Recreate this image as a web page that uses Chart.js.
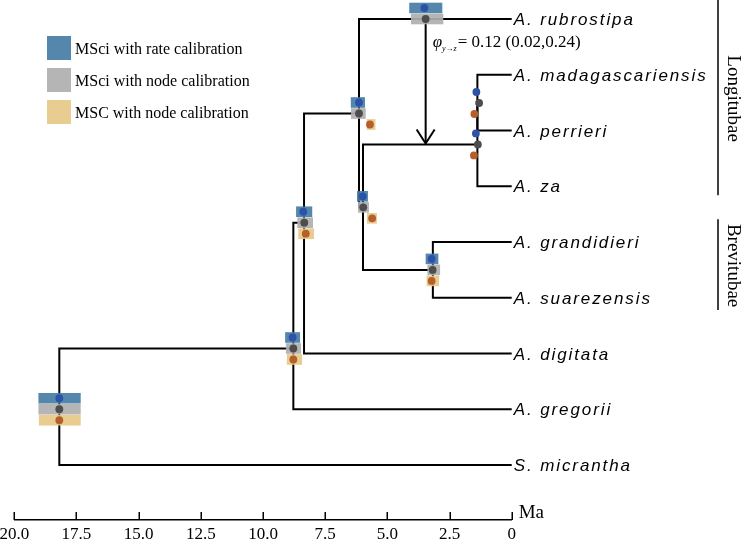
<!DOCTYPE html>
<html><head><meta charset="utf-8">
<script src="https://cdn.jsdelivr.net/npm/chart.js@4/dist/chart.umd.min.js"></script>
<style>html,body{margin:0;padding:0;background:#fff}#wrap{position:relative;width:742px;height:542px}</style>
</head><body><div id="wrap"><canvas id="c"></canvas></div>
<script>
// ---- tips (rows from top) ----
const tipNames = ['A. rubrostipa','A. madagascariensis','A. perrieri','A. za','A. grandidieri','A. suarezensis','A. digitata','A. gregorii','S. micrantha'];
const tipRows  = [0,1,2,3,4,5,6,7,8];
// ---- internal nodes (age in Ma, row position) ----
const nodeNames = ['root','n2','n3','n4','n5','brev','l2','l1'];
const nodeAges  = [18.19, 8.78, 8.35, 6.14, 5.98, 3.17, 1.38, 1.38];
const nodeRows  = [7.0, 5.91, 3.654, 1.695, 3.378, 4.5, 2.25, 1.507];
// ---- edges ----
const edgeParent = ['root','root','n2','n2','n3','n3','n4','n4','n5','n5','l2','l2','l1','l1','brev','brev'];
const edgeChild  = ['n2','S. micrantha','n3','A. gregorii','n4','A. digitata','A. rubrostipa','n5','l2','brev','l1','A. za','A. madagascariensis','A. perrieri','A. grandidieri','A. suarezensis'];
// ---- introgression ----
const hybAge = 3.46, hybRow = 0, hybTargetRow = 2.25;
const phiValue = '0.12', phiLow = '0.02', phiHigh = '0.24';
// ---- age estimates by method; order of estNodes ----
const estNodes = ['root','n2','n3','n4','n5','brev','l2','l1','hyb'];
const rateMean = [18.19, 8.81, 8.38, 6.14, 5.99, 3.22, 1.44, 1.42, 3.51];
const rateLo   = [17.33, 8.51, 8.02, 5.90, 5.78, 2.95, null, null, 2.79];
const rateHi   = [19.03, 9.11, 8.67, 6.47, 6.22, 3.46, null, null, 4.12];
const nodeMean = [18.19, 8.78, 8.34, 6.14, 5.97, 3.18, 1.36, 1.31, 3.46];
const nodeLo   = [17.33, 8.47, 7.99, 5.87, 5.74, 2.88, null, null, 2.75];
const nodeHi   = [19.03, 9.08, 8.62, 6.46, 6.18, 3.39, null, null, 4.05];
const mscMean  = [18.19, 8.78, 8.28, 5.70, 5.61, 3.22, 1.52, 1.50, null];
const mscLo    = [17.33, 8.43, 7.95, 5.48, 5.42, 2.92, null, null, null];
const mscHi    = [19.01, 9.04, 8.58, 5.83, 5.82, 3.42, null, null, null];
const legendLabels = ['MSci with rate calibration','MSci with node calibration','MSC with node calibration'];
// ---- clades ----
const cladeNames = ['Longitubae','Brevitubae'];
const cladeFrom  = [-0.34, 3.59];
const cladeTo    = [3.16, 5.22];
const axisUnit = 'Ma';

const boxColors = ['rgba(70,125,165,0.92)','rgba(175,175,175,0.92)','rgba(230,200,135,0.92)'];
const dotColors = ['#2d52a8','#4d4d4d','#b5602b'];
const methodMean = [rateMean,nodeMean,mscMean], methodLo=[rateLo,nodeLo,mscLo], methodHi=[rateHi,nodeHi,mscHi];
const dyPx = [-11, 0, 11];

function pos(name){
  const ti = tipNames.indexOf(name);
  if (ti >= 0) return {x:0, y:tipRows[ti]};
  const ni = nodeNames.indexOf(name);
  return {x:nodeAges[ni], y:nodeRows[ni]};
}
const lineStyle = {showLine:true, borderColor:'#000', borderWidth:2, pointRadius:0, fill:false, tension:0, borderJoinStyle:'miter', borderCapStyle:'square'};
const datasets = edgeParent.map((p,i)=>{
  const a = pos(p), b = pos(edgeChild[i]);
  return Object.assign({data:[{x:a.x,y:a.y},{x:a.x,y:b.y},{x:b.x,y:b.y}]}, lineStyle);
});
datasets.push(Object.assign({}, lineStyle, {borderCapStyle:'butt', data:[{x:hybAge,y:hybRow},{x:hybAge,y:hybTargetRow - 0.02}]}));

const serif = '"Liberation Serif","Times New Roman",serif';
const sans = '"Liberation Sans",Arial,sans-serif';

const treePlugin = {
  id:'tree',
  afterDatasetsDraw(chart){
    const ctx = chart.ctx, xs = chart.scales.x, ys = chart.scales.y;
    const X = v => xs.getPixelForValue(v), Y = v => ys.getPixelForValue(v);
    ctx.save();
    // arrow head
    const ax = X(hybAge), ay = Y(hybTargetRow) - 1;
    ctx.strokeStyle = '#000'; ctx.lineWidth = 2; ctx.lineJoin='miter';
    ctx.beginPath(); ctx.moveTo(ax-9, ay-14); ctx.lineTo(ax, ay); ctx.lineTo(ax+9, ay-14); ctx.stroke();
    // boxes
    estNodes.forEach((id,i)=>{
      const row = id==='hyb' ? hybRow : nodeRows[nodeNames.indexOf(id)];
      const yc = Y(row);
      for (let m=0;m<3;m++){
        if (methodLo[m][i]==null) continue;
        const x1 = X(methodHi[m][i]), x2 = X(methodLo[m][i]);
        ctx.fillStyle = boxColors[m];
        ctx.fillRect(x1, yc+dyPx[m]-5.3, x2-x1, 10.6);
      }
    });
    // dots
    estNodes.forEach((id,i)=>{
      const row = id==='hyb' ? hybRow : nodeRows[nodeNames.indexOf(id)];
      const yc = Y(row);
      for (let m=0;m<3;m++){
        if (methodMean[m][i]==null) continue;
        ctx.fillStyle = dotColors[m];
        ctx.beginPath(); ctx.arc(X(methodMean[m][i]), yc+dyPx[m], 3.9, 0, Math.PI*2); ctx.fill();
      }
    });
    // tip labels
    ctx.fillStyle = '#000';
    ctx.font = 'italic 17px ' + sans;
    ctx.letterSpacing = '1.9px';
    ctx.textAlign = 'left'; ctx.textBaseline = 'alphabetic';
    tipNames.forEach((n,i)=>{ ctx.fillText(n, X(0)+2, Y(tipRows[i])+6); });
    ctx.letterSpacing = '0px';
    // phi annotation
    let px = X(hybAge)+7; const pb = 47;
    ctx.font = 'italic 17px ' + serif; ctx.fillText('φ', px, pb); px += ctx.measureText('φ').width;
    ctx.font = 'italic 8px ' + serif; ctx.fillText('y→z', px, pb+4); px += ctx.measureText('y→z').width + 1;
    ctx.font = '17px ' + serif; ctx.fillText('= ' + phiValue + ' (' + phiLow + ',' + phiHigh + ')', px, pb);
    // axis tick marks (upward)
    ctx.lineWidth = 1.5;
    xs.ticks.forEach(t=>{ const x = Math.round(X(t.value))+0.25; ctx.beginPath(); ctx.moveTo(x, xs.top); ctx.lineTo(x, xs.top-8); ctx.stroke(); });
    ctx.font = '19px ' + serif; ctx.fillText(axisUnit, X(0)+7, 518);
    // legend
    legendLabels.forEach((l,i)=>{
      const cy = 48 + i*32;
      ctx.fillStyle = boxColors[i]; ctx.fillRect(47, cy-12, 24, 24);
      ctx.fillStyle = '#000'; ctx.font = '16px ' + serif; ctx.fillText(l, 75, cy+5.5);
    });
    // clades
    cladeNames.forEach((c,i)=>{
      const y1 = Y(cladeFrom[i]), y2 = Y(cladeTo[i]);
      ctx.lineWidth = 1.5; ctx.beginPath(); ctx.moveTo(718, y1); ctx.lineTo(718, y2); ctx.stroke();
      ctx.save(); ctx.translate(733, (y1+y2)/2+1); ctx.rotate(Math.PI/2);
      ctx.font = '19px ' + serif; ctx.textAlign='center'; ctx.textBaseline='middle'; ctx.fillText(c, 0, 0);
      ctx.restore();
    });
    ctx.restore();
  }
};

new Chart(document.getElementById('c'), {
  type:'scatter',
  data:{datasets},
  options:{
    responsive:true, maintainAspectRatio:false, animation:false, events:[],
    layout:{padding:{left:14.3, right:230.3, top:0, bottom:0}},
    plugins:{legend:{display:false}, tooltip:{enabled:false}},
    scales:{
      x:{type:'linear', position:'bottom', reverse:true, min:0, max:20,
        ticks:{stepSize:2.5, color:'#000', font:{family:serif, size:17}, padding:4, maxRotation:0, autoSkip:false,
          callback:v => v===0 ? '0' : Number(v).toFixed(1)},
        grid:{display:false, drawTicks:false},
        border:{display:true, color:'#000', width:1.5},
        afterFit:s=>{ s.height = 22; s.paddingLeft = 0; s.paddingRight = 0; }
      },
      y:{type:'linear', display:false, reverse:true, min:-0.3408, max:8.9865}
    }
  },
  plugins:[treePlugin]
});
</script></body></html>
